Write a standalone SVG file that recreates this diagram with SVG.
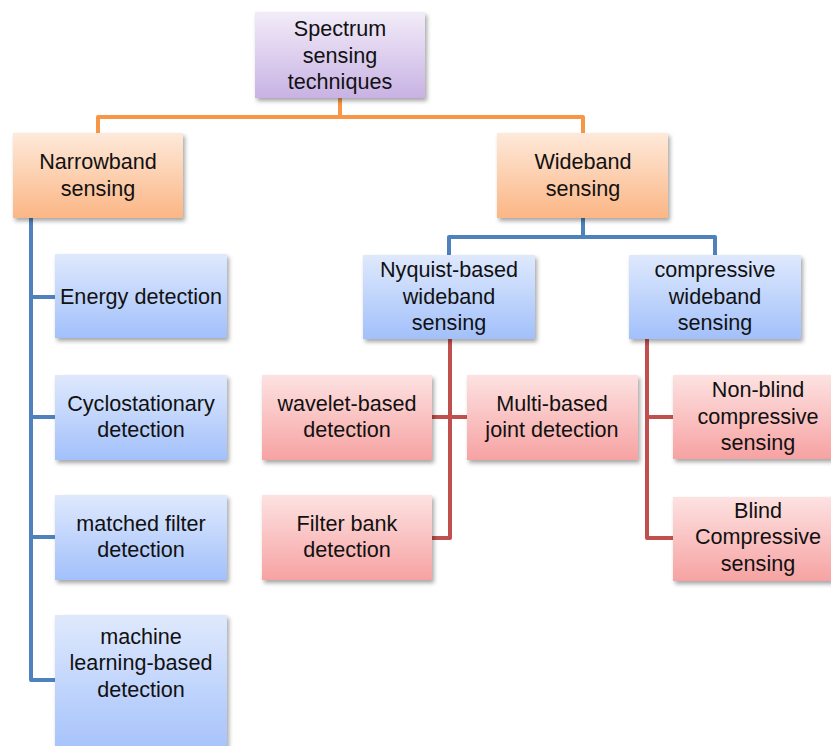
<svg xmlns="http://www.w3.org/2000/svg" width="831" height="746" viewBox="0 0 831 746">
<style>
text{font-family:"Liberation Sans",Arial,sans-serif;font-size:21.6px;fill:#111;text-anchor:middle}
.c{fill:none;stroke-width:4;stroke-linejoin:round;stroke-linecap:butt}
.o{stroke:#f79646}.b{stroke:#4f81bd}.r{stroke:#c0504d}
</style>
<defs>
<linearGradient id="gp" x1="0" y1="0" x2="0" y2="1"><stop offset="0" stop-color="#f2ecf8"/><stop offset="1" stop-color="#c8b2e4"/></linearGradient>
<linearGradient id="go" x1="0" y1="0" x2="0" y2="1"><stop offset="0" stop-color="#fee9da"/><stop offset="1" stop-color="#fbb685"/></linearGradient>
<linearGradient id="gb" x1="0" y1="0" x2="0" y2="1"><stop offset="0" stop-color="#dfe9fd"/><stop offset="1" stop-color="#a2c0fb"/></linearGradient>
<linearGradient id="gr" x1="0" y1="0" x2="0" y2="1"><stop offset="0" stop-color="#fde2e2"/><stop offset="1" stop-color="#f7a2a2"/></linearGradient>
<filter id="sh" x="-10%" y="-10%" width="125%" height="130%"><feDropShadow dx="2" dy="3" stdDeviation="2" flood-color="#000" flood-opacity="0.35"/></filter>
</defs>
<g id="connectors">
<path class="c o" d="M340 98V117M98 133V117H583V133"/>
<path class="c b" d="M583 218V237M449 255V237H715V255"/>
<path class="c b" d="M31 218V680H55M31 297H55M31 417H55M31 537H55"/>
<path class="c r" d="M450 339V538H432M432 417H467"/>
<path class="c r" d="M647 339V538H673M647 417H673"/>
</g>
<g id="n-root"><rect x="255" y="12" width="170" height="86" fill="url(#gp)" filter="url(#sh)"/><text x="340" y="36">Spectrum</text><text x="340" y="63">sensing</text><text x="340" y="89">techniques</text></g>
<g id="n-narrow"><rect x="13" y="133" width="170" height="85" fill="url(#go)" filter="url(#sh)"/><text x="98" y="169">Narrowband</text><text x="98" y="196">sensing</text></g>
<g id="n-wide"><rect x="497" y="133" width="171" height="85" fill="url(#go)" filter="url(#sh)"/><text x="583" y="169">Wideband</text><text x="583" y="196">sensing</text></g>
<g id="n-energy"><rect x="55" y="254" width="172" height="84" fill="url(#gb)" filter="url(#sh)"/><text x="141" y="304">Energy detection</text></g>
<g id="n-cyclo"><rect x="55" y="375" width="172" height="85" fill="url(#gb)" filter="url(#sh)"/><text x="141" y="411">Cyclostationary</text><text x="141" y="437">detection</text></g>
<g id="n-matched"><rect x="55" y="495" width="172" height="85" fill="url(#gb)" filter="url(#sh)"/><text x="141" y="531">matched filter</text><text x="141" y="557">detection</text></g>
<g id="n-ml"><rect x="55" y="615" width="172" height="145" fill="url(#gb)" filter="url(#sh)"/><text x="141" y="644">machine</text><text x="141" y="670">learning-based</text><text x="141" y="697">detection</text></g>
<g id="n-nyq"><rect x="363" y="255" width="172" height="84" fill="url(#gb)" filter="url(#sh)"/><text x="449" y="277">Nyquist-based</text><text x="449" y="304">wideband</text><text x="449" y="330">sensing</text></g>
<g id="n-comp"><rect x="629" y="255" width="172" height="84" fill="url(#gb)" filter="url(#sh)"/><text x="715" y="277">compressive</text><text x="715" y="304">wideband</text><text x="715" y="330">sensing</text></g>
<g id="n-wavelet"><rect x="262" y="375" width="170" height="85" fill="url(#gr)" filter="url(#sh)"/><text x="347" y="411">wavelet-based</text><text x="347" y="437">detection</text></g>
<g id="n-multi"><rect x="467" y="375" width="171" height="85" fill="url(#gr)" filter="url(#sh)"/><text x="552" y="411">Multi-based</text><text x="552" y="437">joint detection</text></g>
<g id="n-filter"><rect x="262" y="495" width="170" height="85" fill="url(#gr)" filter="url(#sh)"/><text x="347" y="531">Filter bank</text><text x="347" y="557">detection</text></g>
<g id="n-nonblind"><rect x="673" y="375" width="170" height="84" fill="url(#gr)" filter="url(#sh)"/><text x="758" y="397">Non-blind</text><text x="758" y="424">compressive</text><text x="758" y="450">sensing</text></g>
<g id="n-blind"><rect x="673" y="497" width="170" height="84" fill="url(#gr)" filter="url(#sh)"/><text x="758" y="518">Blind</text><text x="758" y="544">Compressive</text><text x="758" y="571">sensing</text></g>
</svg>
